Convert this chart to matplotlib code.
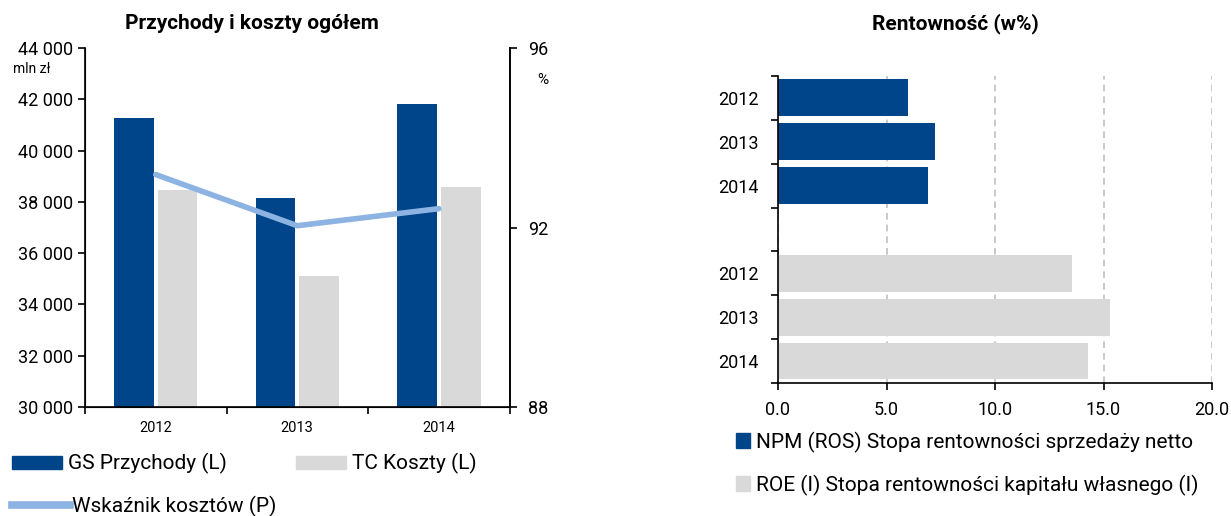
import numpy as np
import matplotlib

matplotlib.use("Agg")
import matplotlib.pyplot as plt
from matplotlib.patches import Patch
from matplotlib.lines import Line2D

plt.rcParams["font.family"] = ["Roboto", "DejaVu Sans"]

# Left chart data
years = ["2012", "2013", "2014"]
revenue = [41260, 38160, 41800]  # GS Przychody (L)
costs = [38470, 35100, 38580]  # TC Koszty (L)
cost_ratio = [93.18, 92.04, 92.42]  # Wskaźnik kosztów (P)

# Right chart data
npm = [6.0, 7.25, 6.9]
roe = [13.55, 15.3, 14.3]

BLUE = "#004489"
GRAY = "#d9d9d9"
LBLUE = "#8db3e2"

fig = plt.figure(figsize=(12.31, 5.16), dpi=100)

# ---------- Left: revenue and costs ----------
ax = fig.add_axes([0.069, 0.2112, 0.345, 0.6958])
x = np.arange(len(years))
ax.bar(x - 0.155, revenue, width=0.28, color=BLUE)
ax.bar(x + 0.155, costs, width=0.28, color=GRAY)
ax.set_ylim(30000, 44000)
ax.set_xlim(-0.5, 2.5)
ax.set_yticks(range(30000, 44001, 2000))
ax.set_yticklabels([f"{v:,}".replace(",", " ") for v in range(30000, 44001, 2000)],
                   fontsize=13)
ax.set_xticks(x)
ax.set_xticklabels(years, fontsize=10.5)
ax.tick_params(axis="x", length=0, pad=10)
ax.set_xticks([-0.5, 0.5, 1.5, 2.5], minor=True)
ax.tick_params(axis="x", which="minor", length=5, width=1.2, direction="out")
ax.tick_params(axis="y", length=5, width=1.2, direction="out")
for s in ["left", "right", "bottom"]:
    ax.spines[s].set_linewidth(1.2)
ax.spines["top"].set_visible(False)
fig.text(0.205, 0.955, "Przychody i koszty ogółem", fontsize=15, fontweight="bold",
         ha="center", va="center")
ax.text(-0.17, 0.93, "mln zł", transform=ax.transAxes, fontsize=10, ha="left")

ax2 = ax.twinx()
ax2.plot(x, cost_ratio, color=LBLUE, linewidth=4, solid_capstyle="round")
ax2.set_ylim(88, 96)
ax2.set_yticks([88, 92, 96])
ax2.set_yticklabels(["88", "92", "96"], fontsize=13)
ax2.tick_params(axis="y", length=5, width=1.2, direction="out", pad=8)
ax2.spines["top"].set_visible(False)
ax2.spines["right"].set_linewidth(1.2)
ax2.text(1.065, 0.9, "%", transform=ax2.transAxes, fontsize=11, ha="left")

handles = [Patch(color=BLUE), Patch(color=GRAY), Line2D([], [], color=LBLUE, linewidth=5.5)]
fig.legend(handles[:2], ["GS Przychody (L)", "TC Koszty (L)"], loc="upper left",
           bbox_to_anchor=(0.003, 0.138), ncol=2, frameon=False, fontsize=15,
           handlelength=2.4, handleheight=0.6, columnspacing=3.3, handletextpad=0.3,
           borderaxespad=0)
fig.legend(handles[2:], ["Wskaźnik kosztów (P)"], loc="upper left",
           bbox_to_anchor=(0.003, 0.055), frameon=False, fontsize=15,
           handlelength=2.8, handletextpad=0.1, borderaxespad=0)

# ---------- Right: profitability ----------
bx = fig.add_axes([0.632, 0.2578, 0.3526, 0.595])
pos_npm = np.arange(3)
pos_roe = np.arange(3) + 4
bx.barh(pos_npm, npm, height=0.84, color=BLUE)
bx.barh(pos_roe, roe, height=0.84, color=GRAY)
bx.set_ylim(6.5, -0.5)
bx.set_xlim(0, 20)
bx.set_xticks([0, 5, 10, 15, 20])
bx.set_xticklabels(["0.0", "5.0", "10.0", "15.0", "20.0"], fontsize=13)
bx.tick_params(axis="x", length=5, width=1.2, direction="out", pad=8)
bx.set_yticks(list(pos_npm) + list(pos_roe))
bx.set_yticklabels(years + years, fontsize=13)
bx.tick_params(axis="y", length=0, pad=14)
bx.set_yticks(np.arange(-0.5, 7.0, 1.0), minor=True)
bx.tick_params(axis="y", which="minor", length=5, width=1.2, direction="out")
bx.grid(axis="x", linestyle=(0, (4, 3)), color="#c0c0c0", linewidth=1.2)
bx.set_axisbelow(True)
bx.spines["top"].set_visible(False)
bx.spines["right"].set_visible(False)
bx.spines["left"].set_linewidth(1.2)
bx.spines["bottom"].set_linewidth(1.2)
fig.text(0.776, 0.955, "Rentowność (w%)", fontsize=15, fontweight="bold", ha="center",
         va="center")

fig.legend([Patch(color=BLUE), Patch(color=GRAY)],
           ["NPM (ROS) Stopa rentowności sprzedaży netto",
            "ROE (I) Stopa rentowności kapitału własnego (I)"],
           loc="upper left", bbox_to_anchor=(0.591, 0.18), frameon=False, fontsize=15,
           handlelength=0.7, handleheight=0.7, handletextpad=0.25, labelspacing=1.05,
           borderaxespad=0)

fig.savefig("out.png", dpi=100)
